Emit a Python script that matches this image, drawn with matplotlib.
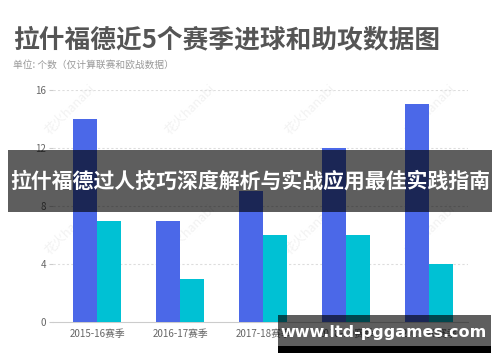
import matplotlib
matplotlib.use("Agg")
from matplotlib import pyplot as plt
from matplotlib.patches import Rectangle
import numpy as np

plt.rcParams['font.family'] = ['Noto Sans CJK SC', 'DejaVu Sans']

seasons = ["2015-16赛季", "2016-17赛季", "2017-18赛季", "2018-19赛季", "2019-20赛季"]
goals = [14, 7, 9, 12, 15]
assists = [7, 3, 6, 6, 4]
y_ticks = [0, 4, 8, 12, 16]

title = "拉什福德近5个赛季进球和助攻数据图"
subtitle = "单位: 个数（仅计算联赛和欧战数据）"
banner = "拉什福德过人技巧深度解析与实战应用最佳实践指南"
site = "www.ltd-pggames.com"

BLUE = "#4b68e8"
CYAN = "#00c1d4"

W, H = 500, 362
fig = plt.figure(figsize=(W / 100, H / 100), dpi=100)
fig.patch.set_facecolor("white")

ax = fig.add_axes([53 / W, 1 - 322 / H, 415 / W, 232 / H])
ax.patch.set_alpha(0)
x = np.arange(len(seasons))
bw = 0.29
ax.bar(x - bw / 2, goals, width=bw, color=BLUE, zorder=3)
ax.bar(x + bw / 2, assists, width=bw, color=CYAN, zorder=3)

ax.set_xlim(-0.53, 4.47)
ax.set_ylim(0, 16)
ax.set_yticks(y_ticks)
ax.set_yticklabels([str(t) for t in y_ticks], fontsize=7, color="#666666")
ax.set_xticks(x)
ax.set_xticklabels(seasons, fontsize=7, color="#666666")
ax.tick_params(axis="y", length=3, color="#cccccc", pad=2)
ax.tick_params(axis="x", length=0, pad=5)
for t in y_ticks[1:]:
    ax.axhline(t, color="#dddddd", lw=0.8, ls=(0, (2, 2)), zorder=1)
for side in ["top", "right", "left"]:
    ax.spines[side].set_visible(False)
ax.spines["bottom"].set_color("#cccccc")
ax.spines["bottom"].set_linewidth(0.8)

# faint watermarks behind the bars
for wx in [70, 190, 310, 430]:
    for wy in [110, 230]:
        fig.text(wx / W, 1 - wy / H, "花火hanabi", rotation=45, fontsize=9,
                 color="#f2f2f2", ha="center", va="center", zorder=-1)

fig.text(13 / W, 1 - 40 / H, title, fontsize=18.5, fontweight="bold",
         color="#555555", ha="left", va="center")
fig.text(13 / W, 1 - 65 / H, subtitle, fontsize=7, color="#999999",
         ha="left", va="center")

# overlay banners
fig.patches.append(Rectangle((8 / W, 1 - 212 / H), 484 / W, 62 / H,
                             transform=fig.transFigure, facecolor="black",
                             alpha=0.63, zorder=5))
fig.text(250 / W, 1 - 181 / H, banner, fontsize=15, fontweight="bold",
         color="white", ha="center", va="center", zorder=6)

fig.patches.append(Rectangle((278 / W, 1 - 346 / H), 213 / W, 31 / H,
                             transform=fig.transFigure, facecolor="black",
                             alpha=0.63, zorder=5))
fig.patches.append(Rectangle((278 / W, 1 - 353 / H), 213 / W, 7 / H,
                             transform=fig.transFigure, facecolor="black",
                             zorder=5))
fig.text(384 / W, 1 - 332 / H, site, fontsize=11.5, fontweight="bold",
         color="white", ha="center", va="center", zorder=6,
         family="DejaVu Sans")

fig.savefig("out.png", dpi=100)
